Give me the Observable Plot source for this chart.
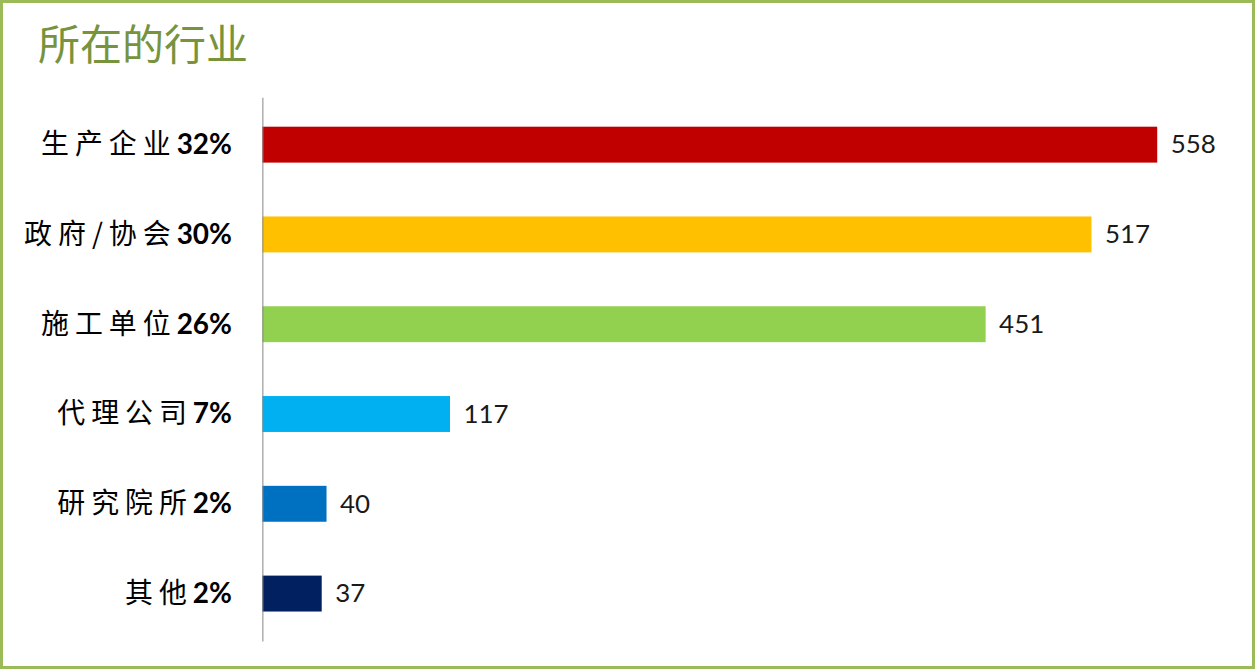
<!DOCTYPE html>
<html>
<head>
<meta charset="utf-8">
<script src="https://cdn.jsdelivr.net/npm/d3@7"></script>
<script src="https://cdn.jsdelivr.net/npm/@observablehq/plot@0.6"></script>
<style>
  body { margin: 0; background: #fff; }
  #frame {
    position: relative; width: 1255px; height: 669px; box-sizing: border-box;
    border: 3px solid #9bbb59; overflow: hidden;
  }
  #title {
    position: absolute; left: 35px; top: 18px; font: 42px/1 "Noto Sans CJK SC", sans-serif;
    color: #77933c;
  }
  #chart { position: absolute; left: -3px; top: -3px; }
</style>
</head>
<body>
<div id="frame">
  <div id="title">所在的行业</div>
  <div id="chart"></div>
</div>
<script>
const categories = ["生产企业", "政府/协会", "施工单位", "代理公司", "研究院所", "其他"];
const shares = ["32%", "30%", "26%", "7%", "2%", "2%"];
const counts = [558, 517, 451, 117, 40, 37];
const colors = ["#C00000", "#FFC000", "#92D050", "#00B0F0", "#0070C0", "#002060"];

const rows = categories.map((c, i) => ({ name: c, share: shares[i], count: counts[i], color: colors[i] }));

const plot = Plot.plot({
  width: 1255,
  height: 669,
  marginLeft: 263,
  marginRight: 95,
  marginTop: 98,
  marginBottom: 26,
  style: { fontFamily: "Lato, 'Noto Sans CJK SC', sans-serif", background: "transparent" },
  x: { domain: [0, 558], axis: null },
  y: {
    domain: categories,
    paddingInner: 0.6,
    paddingOuter: 0.3,
    label: null,
    tickSize: 0,
    tickPadding: 31,
    tickFormat: (d) => d + shares[categories.indexOf(d)]
  },
  marks: [
    Plot.barX(rows, { y: "name", x: "count", fill: "color" }),
    Plot.ruleX([0], { stroke: "#868686", strokeWidth: 1 }),
    Plot.text(rows, {
      y: "name", x: "count", text: "count", dx: 13, textAnchor: "start",
      fontSize: 26, fill: "#1a1a1a", fontFamily: "Lato, sans-serif"
    })
  ]
});

// split each y tick label into the plain name and the bold share
d3.select(plot).selectAll('g[aria-label="y-axis tick label"] text').each(function () {
  const t = d3.select(this);
  const label = t.text();
  const m = label.match(/^(.*?)(\d+%)$/);
  if (!m) return;
  t.text("").attr("fill", "#000").style("font-size", "28px");
  t.append("tspan").text(m[1])
    .style("font-family", "'Noto Sans CJK SC', sans-serif")
    .style("letter-spacing", "6px");
  t.append("tspan").text(m[2]).style("font-family", "Lato, sans-serif").style("font-weight", "bold");
});

document.getElementById("chart").append(plot);
</script>
</body>
</html>
